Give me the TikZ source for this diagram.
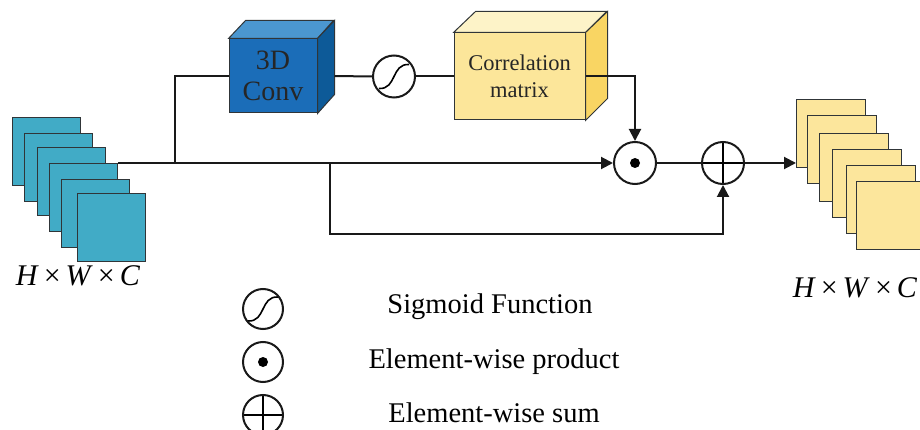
\documentclass[tikz,border=0pt]{standalone}
\usepackage{fontspec}
\setmainfont{Liberation Serif}
\usetikzlibrary{arrows.meta}
\definecolor{mapblue}{HTML}{41ABC6}
\definecolor{mapyellow}{HTML}{FCE69C}
\definecolor{convfront}{HTML}{1B6DB8}
\definecolor{convtop}{HTML}{4B97D0}
\definecolor{convside}{HTML}{0D5A98}
\definecolor{corrfront}{HTML}{FCE69A}
\definecolor{corrtop}{HTML}{FDF3C8}
\definecolor{corrside}{HTML}{F9D563}
\definecolor{edge}{HTML}{303538}

\begin{document}
\begin{tikzpicture}[x=1pt,y=1pt]
      \newcommand{\opsize}[0]{ 42pt }
      \tikzstyle{fmap} = [draw=edge,line width=1.4pt,minimum width=68pt,minimum height=68pt,inner sep=0pt,anchor=north west]
      \tikzstyle{face} = [draw=edge,line width=1pt,inner sep=0pt,font=\fontsize{28}{31}\selectfont,text=black!85,align=center]
      \tikzstyle{op} = [circle,draw=black!90,line width=2pt,minimum size=\opsize,inner sep=0pt,fill=white]
      \tikzstyle{sigop} = [op,path picture={\draw[black,line width=1.6pt,shift={(path picture bounding box.center)}] (-15,-12) .. controls (3,-13) and (-3,13) .. (15,12);}]
      \tikzstyle{prodop} = [op,path picture={\fill[black] (path picture bounding box.center) circle (5);}]
      \tikzstyle{sumop} = [op,path picture={\draw[black,line width=2pt] (path picture bounding box.north) -- (path picture bounding box.south) (path picture bounding box.west) -- (path picture bounding box.east);}]
      \tikzstyle{link} = [line width=2pt,draw=black!90]
      \tikzstyle{arr} = [link,-{Triangle[length=12pt,width=12pt]}]
      \tikzstyle{lbl} = [font=\fontsize{30}{32}\selectfont]
      \tikzstyle{legend} = [font=\fontsize{28.5}{30}\selectfont]

      \useasboundingbox (0,0) rectangle (920,-430);
      \clip (0,0) rectangle (920,-430);

      % input and output feature maps
      \foreach \i/\x/\y in {1/12/117,2/24/133,3/37/147,4/49/163,5/61/179,6/77/193}
        \node[fmap,fill=mapblue] (in\i) at (\x,-\y) {};
      \foreach \i/\x/\y in {1/796/99,2/807/115,3/819/133,4/832/149,5/846/165,6/856/181}
        \node[fmap,fill=mapyellow,minimum width=69pt] (out\i) at (\x,-\y) {};

      % 3D convolution block
      \node[face,fill=convfront,minimum width=88pt,minimum height=74pt] (conv) at (273,-76) {3D\\Conv};
      \filldraw[draw=edge,line width=1pt,fill=convtop] (conv.north west) -- ++(17,18) -- ++(88,0) -- (conv.north east) -- cycle;
      \filldraw[draw=edge,line width=1pt,fill=convside] (conv.north east) -- ++(17,18) -- ++(0,-74) -- (conv.south east) -- cycle;
      \coordinate (convout) at ([xshift=17pt]conv.east);

      % correlation matrix block
      \node[face,fill=corrfront,minimum width=131pt,minimum height=87pt,font=\fontsize{22.5}{27}\selectfont] (corr) at (519.5,-76.5) {Correlation\\matrix};
      \filldraw[draw=edge,line width=1pt,fill=corrtop] (corr.north west) -- ++(22,21) -- ++(131,0) -- (corr.north east) -- cycle;
      \filldraw[draw=edge,line width=1pt,fill=corrside] (corr.north east) -- ++(22,21) -- ++(0,-87) -- (corr.south east) -- cycle;

      \node[sigop] (sig) at (394,-76.5) {};
      \node[prodop] (prod) at (635,-163) {};
      \node[sumop] (sum) at (723,-163) {};

      \coordinate (up) at (175,-163);
      \coordinate (down) at (330,-163);
      \coordinate (low) at (330,-234);

      \draw[arr] (in4.north east) -- (prod.west);
      \draw[link] (up) |- (conv.west);
      \draw[link] (convout) -- (sig.west);
      \draw[link] (sig.east) -- (corr.west);
      \draw[arr] (corr.east) -| (prod.north);
      \draw[link] (prod.east) -- (sum.west);
      \draw[arr] (down) -- (low) -| (sum.south);
      \draw[arr] (sum.east) -- (sum.east -| out1.west);

      \node[lbl] (insize) at (78,-276) {\textit{H}\,×\,\textit{W}\,×\,\textit{C}};
      \node[lbl] (outsize) at (855,-288) {\textit{H}\,×\,\textit{W}\,×\,\textit{C}};

      % legend
      \node[sigop,minimum size=40pt] (lsig) at (263,-309) {};
      \node[prodop,minimum size=40pt] (lprod) at (263,-362) {};
      \node[sumop,minimum size=40pt] (lsum) at (263,-415) {};
      \node[legend] (tsig) at (490,-307) {Sigmoid Function};
      \node[legend] (tprod) at (494,-362) {Element-wise product};
      \node[legend] (tsum) at (494,-413) {Element-wise sum};
    \end{tikzpicture}
\end{document}
